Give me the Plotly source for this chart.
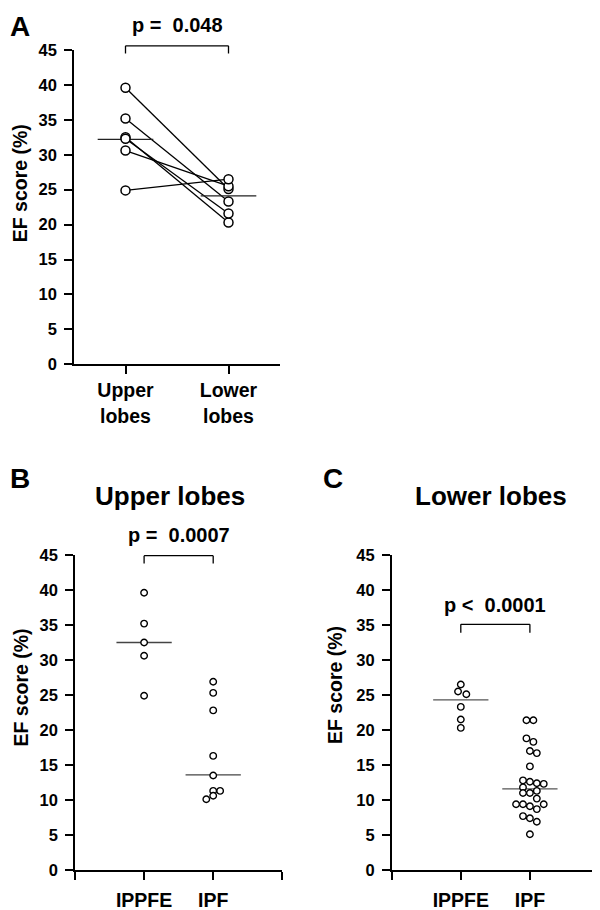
import plotly.graph_objects as go

# ---------------- data ----------------
# Panel A: paired values (upper lobe, lower lobe) for IPPFE patients
a_categories = ["Upper<br>lobes", "Lower<br>lobes"]
a_upper = [39.6, 35.2, 32.5, 32.3, 30.6, 24.9]
a_lower = [25.1, 23.3, 20.3, 21.6, 25.5, 26.5]
a_medians = [32.2, 24.1]
a_pvalue = "p =\u00a0 0.048"

# Panel B: Upper lobes
b_categories = ["IPPFE", "IPF"]
b_ippfe = [39.6, 35.2, 32.5, 30.6, 24.9]
b_ippfe_jitter = [0, 0, 0, 0, 0]
b_ipf = [26.9, 25.3, 22.8, 16.3, 13.5, 11.3, 11.3, 10.6, 10.1]
b_ipf_jitter = [0, 0, 0, 0, 0, 0, 0.1, 0, -0.1]
b_medians = [32.5, 13.6]
b_pvalue = "p =\u00a0 0.0007"

# Panel C: Lower lobes
c_categories = ["IPPFE", "IPF"]
c_ippfe = [26.5, 25.5, 25.1, 23.3, 21.5, 20.3]
c_ippfe_jitter = [0, -0.04, 0.08, 0, 0, 0]
c_ipf = [21.4, 21.4, 18.8, 18.3, 17.0, 16.7, 14.8,
         12.8, 12.6, 12.4, 12.3, 11.8, 11.0, 11.0, 11.3, 10.2,
         9.4, 9.4, 9.4, 9.1, 8.7, 7.7, 7.4, 6.9, 5.1]
c_ipf_jitter = [-0.05, 0.05, -0.05, 0.05, 0, 0.1, 0,
                -0.1, 0, 0.1, 0.2, -0.1, -0.1, 0, 0.1, 0.1,
                -0.2, -0.1, 0.2, 0, 0.1, -0.1, 0, 0.1, 0]
c_medians = [24.3, 11.6]
c_pvalue = "p <\u00a0 0.0001"

y_ticks = [0, 5, 10, 15, 20, 25, 30, 35, 40, 45]
y_max = 45
y_title = "EF score (%)"

# ---------------- helpers ----------------
# the page body has an 8px margin, so the figure is drawn 8px in from the top-left
OFF = 8
W, H = 600 - OFF, 910 - OFF
FONT = "Liberation Sans, Arial, Helvetica, sans-serif"


def px(x):
    return (x - OFF) / W


def py(y):
    return 1 - (y - OFF) / H


fig = go.Figure()

# Panel A connecting lines
for u, l in zip(a_upper, a_lower):
    fig.add_trace(go.Scatter(x=[0, 1], y=[u, l], mode="lines",
                             line=dict(color="black", width=1.3),
                             xaxis="x", yaxis="y", showlegend=False, hoverinfo="skip"))
# Panel A medians
for i, m in enumerate(a_medians):
    fig.add_trace(go.Scatter(x=[i - 0.27, i + 0.27], y=[m, m], mode="lines",
                             line=dict(color="#222", width=1.3),
                             xaxis="x", yaxis="y", showlegend=False, hoverinfo="skip"))
# Panel A markers
mk_a = dict(symbol="circle", size=9, color="white", line=dict(color="black", width=1.5))
fig.add_trace(go.Scatter(x=[0] * len(a_upper), y=a_upper, mode="markers", marker=mk_a,
                         xaxis="x", yaxis="y", showlegend=False))
fig.add_trace(go.Scatter(x=[1] * len(a_lower), y=a_lower, mode="markers", marker=mk_a,
                         xaxis="x", yaxis="y", showlegend=False))

mk_bc = dict(symbol="circle", size=6.5, color="white", line=dict(color="black", width=1.4))

# Panel B
for i, m in enumerate(b_medians):
    fig.add_trace(go.Scatter(x=[i - 0.4, i + 0.4], y=[m, m], mode="lines",
                             line=dict(color="#444", width=1.3),
                             xaxis="x2", yaxis="y2", showlegend=False, hoverinfo="skip"))
fig.add_trace(go.Scatter(x=[0 + j for j in b_ippfe_jitter], y=b_ippfe, mode="markers",
                         marker=mk_bc, xaxis="x2", yaxis="y2", showlegend=False))
fig.add_trace(go.Scatter(x=[1 + j for j in b_ipf_jitter], y=b_ipf, mode="markers",
                         marker=mk_bc, xaxis="x2", yaxis="y2", showlegend=False))

# Panel C
for i, m in enumerate(c_medians):
    fig.add_trace(go.Scatter(x=[i - 0.4, i + 0.4], y=[m, m], mode="lines",
                             line=dict(color="#555", width=1.3),
                             xaxis="x3", yaxis="y3", showlegend=False, hoverinfo="skip"))
fig.add_trace(go.Scatter(x=[0 + j for j in c_ippfe_jitter], y=c_ippfe, mode="markers",
                         marker=mk_bc, xaxis="x3", yaxis="y3", showlegend=False))
fig.add_trace(go.Scatter(x=[1 + j for j in c_ipf_jitter], y=c_ipf, mode="markers",
                         marker=mk_bc, xaxis="x3", yaxis="y3", showlegend=False))

axis_common = dict(showline=True, linecolor="black", linewidth=1.5, ticks="outside",
                   ticklen=8, tickwidth=1.5, tickcolor="black", showgrid=False,
                   zeroline=False, fixedrange=True, automargin=False)
ytick_font = dict(family=FONT, size=16.5, color="black", weight="bold")
xtick_font = dict(family=FONT, size=19.5, color="black", weight="bold")

yax = dict(axis_common, range=[0, y_max], tickvals=y_ticks, tickfont=ytick_font,
           ticklabelstandoff=4)

fig.update_layout(
    width=W, height=H, margin=dict(l=0, r=0, t=0, b=0, autoexpand=False),
    paper_bgcolor="white", plot_bgcolor="white",
    font=dict(family=FONT, color="black"),
    xaxis=dict(axis_common, domain=[px(74), px(280)], range=[-0.5, 1.5], anchor="y",
               tickvals=[0, 1], ticktext=a_categories, tickfont=xtick_font,
               ticklabelstandoff=0),
    yaxis=dict(yax, domain=[py(364.3), py(50)], anchor="x"),
    xaxis2=dict(axis_common, domain=[px(75), px(282.3)], range=[-1, 2], anchor="y2",
                tickvals=[-1, 0, 1, 2], ticktext=[""] + b_categories + [""], tickfont=xtick_font,
                ticklabelstandoff=4),
    yaxis2=dict(yax, domain=[py(870), py(555)], anchor="x2"),
    xaxis3=dict(axis_common, domain=[px(391.7), px(599)], range=[-1, 2], anchor="y3",
                tickvals=[-1, 0, 1, 2], ticktext=[""] + c_categories + [""], tickfont=xtick_font,
                ticklabelstandoff=4),
    yaxis3=dict(yax, domain=[py(870), py(555)], anchor="x3"),
)

# significance brackets (x in data units, y in axis-domain fraction so they are not clipped)
for xa, ya, yt, yb in [("x", "y", 45.6, 44.5), ("x2", "y2", 44.9, 43.8), ("x3", "y3", 35.1, 33.9)]:
    fig.add_shape(type="line", xref=xa, yref=ya + " domain", x0=0, x1=1,
                  y0=yt / y_max, y1=yt / y_max, line=dict(color="black", width=1.3))
    fig.add_shape(type="line", xref=xa, yref=ya + " domain", x0=0, x1=0,
                  y0=yt / y_max, y1=yb / y_max, line=dict(color="black", width=1.3))
    fig.add_shape(type="line", xref=xa, yref=ya + " domain", x0=1, x1=1,
                  y0=yt / y_max, y1=yb / y_max, line=dict(color="black", width=1.3))

# p-values
for xa, ya, yv, txt in [("x", "y", 48.6, a_pvalue), ("x2", "y2", 47.8, b_pvalue),
                         ("x3", "y3", 37.8, c_pvalue)]:
    fig.add_annotation(x=0.5, y=yv / y_max, xref=xa, yref=ya + " domain", text=txt,
                       showarrow=False, xanchor="center", yanchor="middle",
                       font=dict(family=FONT, size=20, color="black", weight="bold"))

# panel letters (kept just inside the drawable area)
fig.add_annotation(x=px(19.5), y=py(8.5), xref="paper", yref="paper", text="A",
                   showarrow=False, xanchor="center", yanchor="top",
                   font=dict(family=FONT, size=28, color="black", weight="bold"))
for x, y, t in [(19.5, 478, "B"), (332.5, 478, "C")]:
    fig.add_annotation(x=px(x), y=py(y), xref="paper", yref="paper", text=t, showarrow=False,
                       xanchor="center", yanchor="middle",
                       font=dict(family=FONT, size=28, color="black", weight="bold"))

# panel titles
for x, y, t in [(170, 496, "Upper lobes"), (491, 496, "Lower lobes")]:
    fig.add_annotation(x=px(x), y=py(y), xref="paper", yref="paper", text=t, showarrow=False,
                       xanchor="center", yanchor="middle",
                       font=dict(family=FONT, size=26, color="black", weight="bold"))

# y-axis titles
for x, y in [(20, 183.3), (20, 687.5), (335, 685)]:
    fig.add_annotation(x=px(x), y=py(y), xref="paper", yref="paper", text=y_title,
                       showarrow=False, textangle=-90, xanchor="center", yanchor="middle",
                       font=dict(family=FONT, size=19.5, color="black", weight="bold"))

fig.write_html("out.html")
